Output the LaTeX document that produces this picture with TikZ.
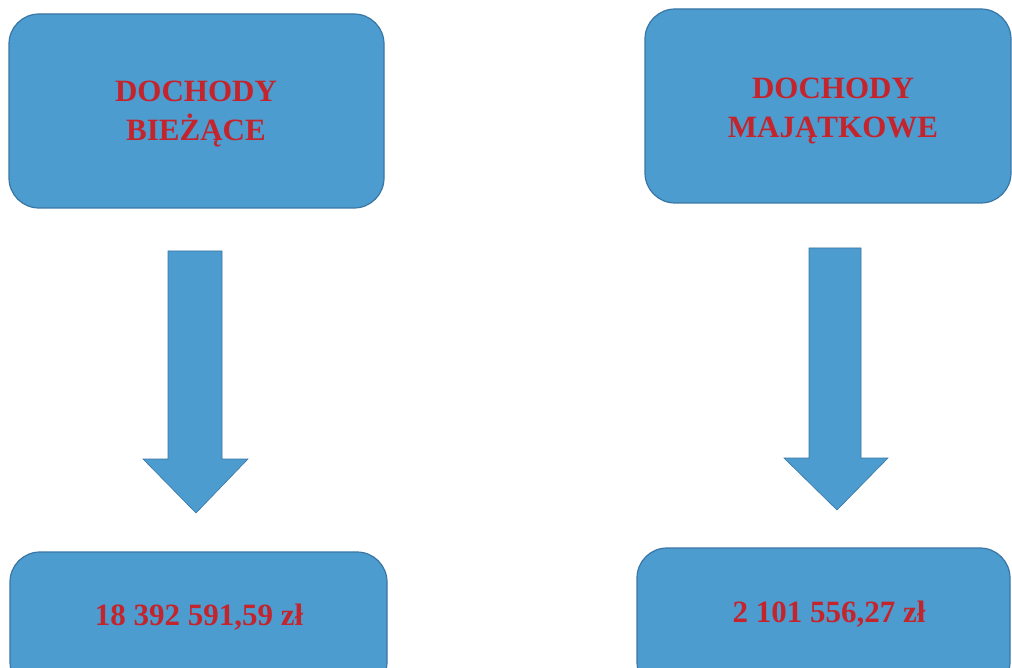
\documentclass[tikz,border=0pt]{standalone}
\usepackage{fontspec}
\setmainfont{Liberation Serif}
\definecolor{boxblue}{RGB}{76,156,207}
\definecolor{boxedge}{RGB}{58,118,165}
\definecolor{txtred}{RGB}{196,36,44}
\tikzset{
  blueBox/.style={draw=boxedge, line width=1.2pt, fill=boxblue, rounded corners=30pt, inner sep=0pt},
  boxText/.style={text=txtred, font=\fontsize{31}{39}\selectfont\bfseries, align=center, inner sep=0pt},
  blockArrow/.style={fill=boxblue, draw=boxedge, line width=0.6pt}
}
\begin{document}
\begin{tikzpicture}[x=1pt,y=-1pt]
\useasboundingbox (0,0) rectangle (1012,668);
\clip (0,0) rectangle (1012,668);
\node[blueBox, minimum width=375pt, minimum height=194pt] (b1) at (196.5,111) {};
\node[blueBox, minimum width=366pt, minimum height=194pt] (b2) at (828,106) {};
\node[blueBox, minimum width=377pt, minimum height=140pt] (b3) at (198.5,622) {};
\node[blueBox, minimum width=373pt, minimum height=144pt] (b4) at (823.5,620) {};
\node[boxText] (t1) at (196,114) {DOCHODY\\BIEŻĄCE};
\node[boxText] (t2) at (833,111) {DOCHODY\\MAJĄTKOWE};
\node[boxText] (t3) at (199,617) {18 392 591,59 zł};
\node[boxText] (t4) at (829,614) {2 101 556,27 zł};
% left arrow
\draw[blockArrow] (168,251) -- (222,251) -- (222,459) -- (248,459) -- (196,513) -- (143,459) -- (168,459) -- cycle;
% right arrow
\draw[blockArrow] (809,248) -- (861,248) -- (861,458) -- (888,458) -- (837,510) -- (784,458) -- (809,458) -- cycle;
\end{tikzpicture}
\end{document}
